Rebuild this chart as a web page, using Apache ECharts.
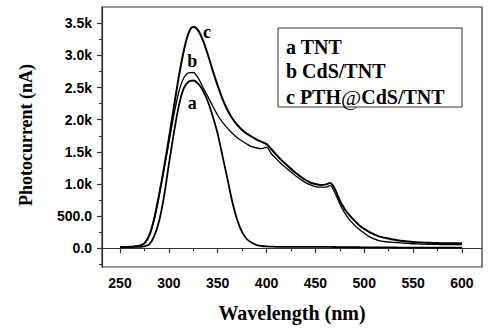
<!DOCTYPE html>
<html>
<head>
<meta charset="utf-8">
<script src="https://cdn.jsdelivr.net/npm/echarts@6/dist/echarts.min.js"></script>
<style>html,body{margin:0;padding:0;background:#fff}#c{width:500px;height:328px}</style>
</head>
<body>
<div id="c"></div>
<script>
// Wavelength (nm), 5 nm steps
var wavelengths = [250,255,260,265,270,275,280,285,290,295,300,305,310,315,320,325,330,335,340,345,350,355,360,365,370,375,380,385,390,395,400,405,410,415,420,425,430,435,440,445,450,455,460,465,470,475,480,485,490,495,500,505,510,515,520,525,530,535,540,545,550,555,560,565,570,575,580,585,590,595,600];
// a TNT
var seriesA = [20,20,20,20,22,30,60,190,420,800,1300,1780,2200,2480,2590,2610,2560,2450,2280,2050,1780,1430,1080,720,440,250,140,85,50,35,28,25,22,22,21,21,20,20,20,20,20,20,20,20,19,18,17,16,15,15,14,14,13,13,12,12,12,11,11,11,10,10,10,9,9,9,9,8,8,8,8];
// b CdS/TNT
var seriesB = [20,20,22,28,40,75,195,450,810,1220,1640,2060,2420,2640,2730,2735,2650,2500,2360,2210,2070,1960,1870,1790,1720,1670,1620,1580,1560,1550,1570,1470,1390,1315,1250,1185,1125,1070,1020,985,960,950,950,975,860,690,550,440,360,290,235,180,145,120,105,97,92,86,80,75,70,67,64,62,60,59,58,57,57,56,56];
// c PTH@CdS/TNT
var seriesC = [20,20,22,28,40,75,200,460,830,1250,1700,2180,2650,3050,3340,3445,3390,3230,3010,2760,2530,2320,2150,2020,1920,1840,1780,1735,1690,1655,1620,1540,1455,1375,1305,1235,1172,1112,1062,1022,1000,985,990,1015,920,740,610,510,430,355,300,255,215,185,165,150,135,122,112,104,97,92,88,85,82,80,78,77,77,76,76];
var xTicks = [250,300,350,400,450,500,550,600];
var xMinorTicks = [275,325,375,425,475,525,575];
var yTicks = [0,500,1000,1500,2000,2500,3000,3500];
var yTickLabels = ['0.0','500.0','1.0k','1.5k','2.0k','2.5k','3.0k','3.5k'];
var yMinorTicks = [-250,250,750,1250,1750,2250,2750,3250];
var curveLabels = [
  {name:'a', coord:[324, 2262]},
  {name:'b', coord:[324, 2908]},
  {name:'c', coord:[339, 3370]}
];
var legendLines = ['a TNT','b CdS/TNT','c PTH@CdS/TNT'];

function pairs(ys){ return ys.map(function(v,i){return [wavelengths[i], v];}); }

var chart = echarts.init(document.getElementById('c'), null, {renderer:'svg'});
var xMin = 231.6, xMax = 620.5, yMin = -292, yMax = 3754;
var tickFont = {fontFamily:'Liberation Sans, Arial, sans-serif', fontWeight:'bold', fontSize:14, color:'#000'};
var serif = '"Liberation Serif", "Times New Roman", serif';

var option = {
  backgroundColor:'#fff',
  animation:false,
  grid:{left:102, right:18, top:7, bottom:58, show:true, borderColor:'#333', borderWidth:1.2, backgroundColor:'transparent'},
  xAxis:[{
    type:'value', min:xMin, max:xMax,
    name:'Wavelength (nm)', nameLocation:'middle', nameGap:36,
    nameTextStyle:{fontFamily:serif, fontWeight:'bold', fontSize:20, color:'#000'},
    axisLine:{show:true, lineStyle:{color:'#333', width:1.2}},
    axisTick:{show:true, inside:false, length:5, customValues:xTicks, lineStyle:{color:'#333', width:1.2}},
    axisLabel:Object.assign({margin:9, customValues:xTicks}, tickFont),
    splitLine:{show:false}
  },{
    type:'value', min:xMin, max:xMax, position:'bottom',
    axisLine:{show:false},
    axisTick:{show:true, inside:false, length:3, customValues:xMinorTicks, lineStyle:{color:'#333', width:1}},
    axisLabel:{show:false}, splitLine:{show:false}
  }],
  yAxis:[{
    type:'value', min:yMin, max:yMax,
    axisLine:{show:true, lineStyle:{color:'#333', width:1.2}},
    axisTick:{show:true, inside:false, length:5, customValues:yTicks, lineStyle:{color:'#333', width:1.2}},
    axisLabel:Object.assign({margin:10, customValues:yTicks, formatter:function(v){var i=yTicks.indexOf(v);return i>=0?yTickLabels[i]:'';}}, tickFont),
    splitLine:{show:false}
  },{
    type:'value', min:yMin, max:yMax, position:'left',
    axisLine:{show:false},
    axisTick:{show:true, inside:false, length:3, customValues:yMinorTicks, lineStyle:{color:'#333', width:1}},
    axisLabel:{show:false}, splitLine:{show:false}
  }],
  series:[
    {name:'a TNT', type:'line', data:pairs(seriesA), showSymbol:false, smooth:0.3, lineStyle:{color:'#000', width:1.8}, itemStyle:{color:'#000'},
     markPoint:{symbol:'circle', symbolSize:0, data:curveLabels.map(function(l){return {name:l.name, coord:l.coord, value:l.name};}),
       label:{show:true, formatter:'{b}', position:'inside', fontFamily:serif, fontWeight:'bold', fontSize:18, color:'#000'}}},
    {name:'b CdS/TNT', type:'line', data:pairs(seriesB), showSymbol:false, smooth:0.3, lineStyle:{color:'#000', width:1.3}, itemStyle:{color:'#000'}},
    {name:'c PTH@CdS/TNT', type:'line', data:pairs(seriesC), showSymbol:false, smooth:0.3, lineStyle:{color:'#000', width:2}, itemStyle:{color:'#000'}}
  ],
  graphic:[
    {type:'text', x:26, y:135, rotation:Math.PI/2, style:{text:'Photocurrent (nA)', font:'bold 18px ' + serif, fill:'#000', align:'center', verticalAlign:'middle'}},
    {type:'rect', shape:{x:278, y:28, width:184, height:79}, style:{fill:'#fff', stroke:'#333', lineWidth:1}},
    {type:'text', x:286, y:47, style:{text:legendLines[0], font:'bold 20px ' + serif, fill:'#000', verticalAlign:'middle'}},
    {type:'text', x:286, y:71, style:{text:legendLines[1], font:'bold 20px ' + serif, fill:'#000', verticalAlign:'middle'}},
    {type:'text', x:286, y:97, style:{text:'{b|c PTH}{at|@}{b|CdS/TNT}', verticalAlign:'middle',
      rich:{b:{font:'bold 20px ' + serif, fill:'#000'}, at:{font:'22px ' + serif, fill:'#000'}}}}
  ]
};
chart.setOption(option);
</script>
</body>
</html>
